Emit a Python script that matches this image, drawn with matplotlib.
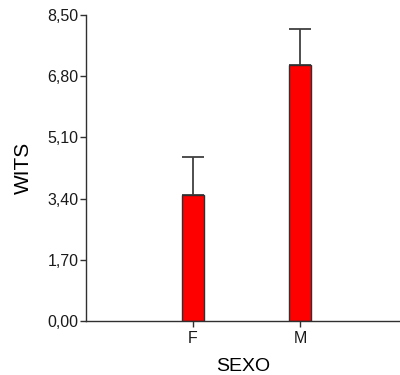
import matplotlib
matplotlib.use("Agg")
import matplotlib.pyplot as plt

categories = ["F", "M"]
means = [3.51, 7.11]
errors = [1.04, 1.00]
yticks = [0.0, 1.7, 3.4, 5.1, 6.8, 8.5]
ytick_labels = ["0,00", "1,70", "3,40", "5,10", "6,80", "8,50"]

plt.rcParams['font.family'] = ['Liberation Sans', 'DejaVu Sans']
fig = plt.figure(figsize=(4.0, 3.75), dpi=100)
ax = fig.add_axes([86/400, 1 - 321/375, (400 - 86)/400, 306/375])

x = list(range(len(categories)))
ax.bar(x, means, width=0.21, color="#ff0000", edgecolor="#303030", linewidth=1.0, zorder=2)
ax.errorbar(x, means, yerr=[[0]*len(errors), errors], fmt="none", ecolor="#404040",
            elinewidth=1.3, capsize=7.8, capthick=1.3, zorder=1)

ax.set_xlim(-1.0, 1.935)
ax.set_ylim(0, 8.5)
ax.set_yticks(yticks)
ax.set_yticklabels(ytick_labels)
ax.set_xticks(x)
ax.set_xticklabels(categories)
for s in ["top", "right"]:
    ax.spines[s].set_visible(False)
for s in ["left", "bottom"]:
    ax.spines[s].set_color("#303030")
    ax.spines[s].set_linewidth(1.0)
ax.tick_params(axis="both", colors="#303030", labelcolor="#1a1a1a", labelsize=11.5, length=4.5, width=1.0)
ax.tick_params(axis="y", pad=1)
ax.tick_params(axis="x", pad=3)
ax.set_xlabel("SEXO", fontsize=14, labelpad=8)
ax.set_ylabel("WITS", fontsize=15, labelpad=10)

fig.savefig("out.png", dpi=100)
